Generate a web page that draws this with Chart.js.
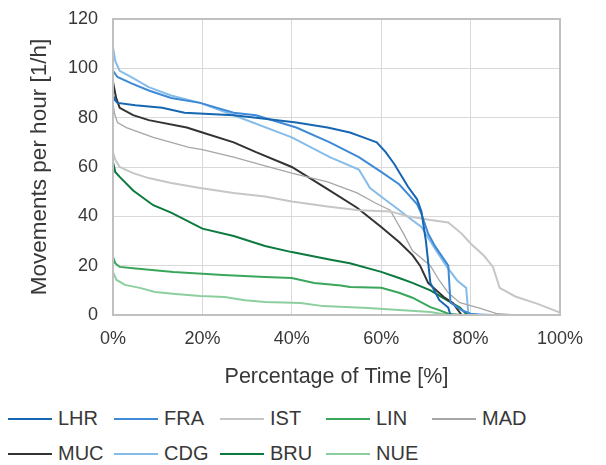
<!DOCTYPE html>
<html>
<head>
<meta charset="utf-8">
<script src="https://cdn.jsdelivr.net/npm/chart.js@4/dist/chart.umd.min.js"></script>
<style>
  html, body { margin: 0; padding: 0; background: #fff; }
  #wrap { position: relative; width: 606px; height: 465px; font-family: 'Liberation Sans', Arial, sans-serif; }
  #chart { display: block; }
  #legend {
    position: absolute; left: 8px; top: 401px;
    display: grid; grid-template-columns: repeat(5, 106px); grid-auto-rows: 35px;
    color: #383838; font-size: 20px;
  }
  .item { display: flex; align-items: center; white-space: nowrap; }
  .swatch { width: 44px; height: 2px; margin-right: 6px; }
</style>
</head>
<body>
<div id="wrap">
  <canvas id="chart" width="606" height="400"></canvas>
  <div id="legend"></div>
</div>
<script>
// Duration curves: [percentage of time, movements per hour]
const LHR = [[0, 89], [0.5, 87], [1, 86], [5, 85], [11, 84], [16, 82], [27, 81], [32, 80], [41, 78], [48, 76], [53, 74],
  [56, 72], [59, 70], [61, 66], [63, 61], [64, 58], [66, 52], [68, 47], [69, 42], [70, 30], [71, 13], [73, 6], [75, 3], [75.5, 0], [100, 0]];
const FRA = [[0, 99], [1, 96.5], [4, 94], [8, 91], [13, 88], [19.5, 86], [27, 82], [32, 81], [41, 76], [48.5, 70], [55, 64],
  [60, 58], [64, 53], [66, 49], [68, 45], [69, 41], [70.5, 33], [72, 28], [75, 20], [75.5, 5], [78, 2], [80, 0.5], [82, 0], [100, 0]];
const IST = [[0, 66], [0.5, 63], [1.5, 60], [4.5, 57.5], [8, 55.5], [13, 53.5], [19.5, 51.5], [27, 49.5], [34, 48], [40, 46],
  [48, 44], [55, 42.5], [62, 42], [66, 40], [71, 38.5], [75, 37.5], [78, 33], [80, 29], [83, 24], [85, 19.5], [86.5, 11],
  [90, 7.5], [95, 4.5], [100, 1]];
const LIN = [[0, 23.5], [0.5, 21], [1.5, 19.5], [4.5, 19], [13.5, 17.4], [24.6, 16.2], [34, 15.4], [40, 15], [45, 13], [51, 12],
  [53, 11.4], [60, 11], [64, 9], [67, 7], [71, 3.2], [73, 2], [75, 0.5], [78, 0], [100, 0]];
const MAD = [[0, 86], [0.3, 82], [1, 78], [3, 76], [9, 72], [17, 68], [20, 67], [27, 64], [33, 61], [40, 57.5], [48, 54],
  [54.6, 49.5], [58.6, 45.5], [62, 42.5], [65, 33], [67, 26], [71, 20], [73, 14], [75, 9], [77.6, 5], [82, 2.8], [86, 0.5], [90, 0], [100, 0]];
const MUC = [[0, 94.5], [0.7, 88], [1.5, 84], [4.5, 81], [8, 79], [16.5, 76], [20, 74], [27, 70], [32, 66], [40, 60], [48, 51],
  [54.6, 43.5], [60, 35.7], [64, 29.6], [67, 24.3], [68.7, 20], [70.5, 13], [74, 7.3], [76, 4.9], [78, 0], [100, 0]];
const CDG = [[0, 108.6], [0.5, 103], [1.5, 99], [4, 96.5], [8, 92.4], [13, 89], [19.5, 86], [27, 81], [40, 72], [48.5, 64],
  [55, 59], [57.5, 51.5], [61, 46.6], [64, 42.6], [66, 39.7], [69, 35.7], [72, 27], [74.7, 19.5], [77, 14], [79, 11],
  [79.5, 0.5], [85, 0], [100, 0]];
const BRU = [[0, 62], [0.5, 58], [1.5, 56], [4.5, 50.5], [9, 44.5], [13, 41.5], [20, 35], [27, 32], [34, 28], [40, 25.5],
  [49, 22.3], [53, 21], [60, 17.5], [64, 15], [67, 13], [71, 10], [74.7, 6], [77.6, 3], [79, 0.5], [82, 0], [100, 0]];
const NUE = [[0, 17.4], [0.8, 14.2], [2.7, 12.2], [6, 11], [9.4, 9.3], [14, 8.5], [19.5, 7.7], [25, 7.3], [29.5, 6], [34, 5.3],
  [42, 4.9], [47, 3.6], [57, 2.8], [64, 2], [71, 1.2], [75, 0], [100, 0]];

const airports = ['LHR', 'FRA', 'IST', 'LIN', 'MAD', 'MUC', 'CDG', 'BRU', 'NUE'];
const curves = [LHR, FRA, IST, LIN, MAD, MUC, CDG, BRU, NUE];
const colors = ['#1766b2', '#3f8ad6', '#c6c6c6', '#3aa65c', '#a6a6a6', '#333333', '#86bce9', '#0c7a3e', '#8ccf9e'];
const widths = [2, 2, 2, 2, 1.3, 2, 2, 2, 2];

const xTicks = [0, 20, 40, 60, 80, 100];
const yTicks = [0, 20, 40, 60, 80, 100, 120];

const textColor = '#383838';
const fontFamily = "'Liberation Sans', Arial, sans-serif";

// Excel-like plot area border
const plotBorder = {
    id: 'plotBorder',
    afterDraw(chart) {
        const {ctx, chartArea: a} = chart;
        ctx.save();
        ctx.strokeStyle = '#c0c0c0';
        ctx.lineWidth = 2;
        ctx.strokeRect(a.left, a.top, a.right - a.left, a.bottom - a.top);
        ctx.restore();
    }
};

const ctx = document.getElementById('chart').getContext('2d');
const chart = new Chart(ctx, {
    type: 'line',
    data: {
        datasets: airports.map((name, i) => ({
            label: name,
            data: curves[i].map(p => ({x: p[0], y: p[1]})),
            borderColor: colors[i],
            backgroundColor: colors[i],
            borderWidth: widths[i],
            pointRadius: 0,
            tension: 0,
            fill: false
        }))
    },
    options: {
        responsive: false,
        animation: false,
        layout: {padding: {left: 0, right: 46, top: 19, bottom: 0}},
        scales: {
            x: {
                type: 'linear',
                min: 0,
                max: 100,
                afterBuildTicks: scale => { scale.ticks = xTicks.map(v => ({value: v})); },
                afterFit: scale => {
                    scale.height = 85;
                    scale.paddingLeft = 0;
                    scale.paddingRight = 0;
                },
                grid: {color: '#d9d9d9', drawTicks: false},
                border: {display: false},
                ticks: {
                    padding: 13,
                    color: textColor,
                    font: {family: fontFamily, size: 18},
                    callback: v => v + '%'
                },
                title: {
                    display: true,
                    text: 'Percentage of Time [%]',
                    color: textColor,
                    font: {family: fontFamily, size: 21.5},
                    padding: {top: 0, bottom: 10}
                }
            },
            y: {
                min: 0,
                max: 120,
                afterBuildTicks: scale => { scale.ticks = yTicks.map(v => ({value: v})); },
                afterFit: scale => {
                    scale.width = 113;
                    scale.paddingTop = 0;
                    scale.paddingBottom = 0;
                },
                grid: {color: '#d9d9d9', drawTicks: false},
                border: {display: false},
                ticks: {
                    padding: 15,
                    color: textColor,
                    font: {family: fontFamily, size: 18}
                },
                title: {
                    display: true,
                    text: 'Movements per hour [1/h]',
                    color: textColor,
                    font: {family: fontFamily, size: 22.5},
                    padding: {top: 26, bottom: 0}
                }
            }
        },
        plugins: {
            legend: {display: false},
            tooltip: {enabled: false}
        }
    },
    plugins: [plotBorder]
});

// Legend laid out in a five-column grid under the chart
const legendEl = document.getElementById('legend');
chart.data.datasets.forEach(ds => {
    const item = document.createElement('div');
    item.className = 'item';
    const sw = document.createElement('span');
    sw.className = 'swatch';
    sw.style.background = ds.borderColor;
    item.appendChild(sw);
    item.appendChild(document.createTextNode(ds.label));
    legendEl.appendChild(item);
});
</script>
</body>
</html>
